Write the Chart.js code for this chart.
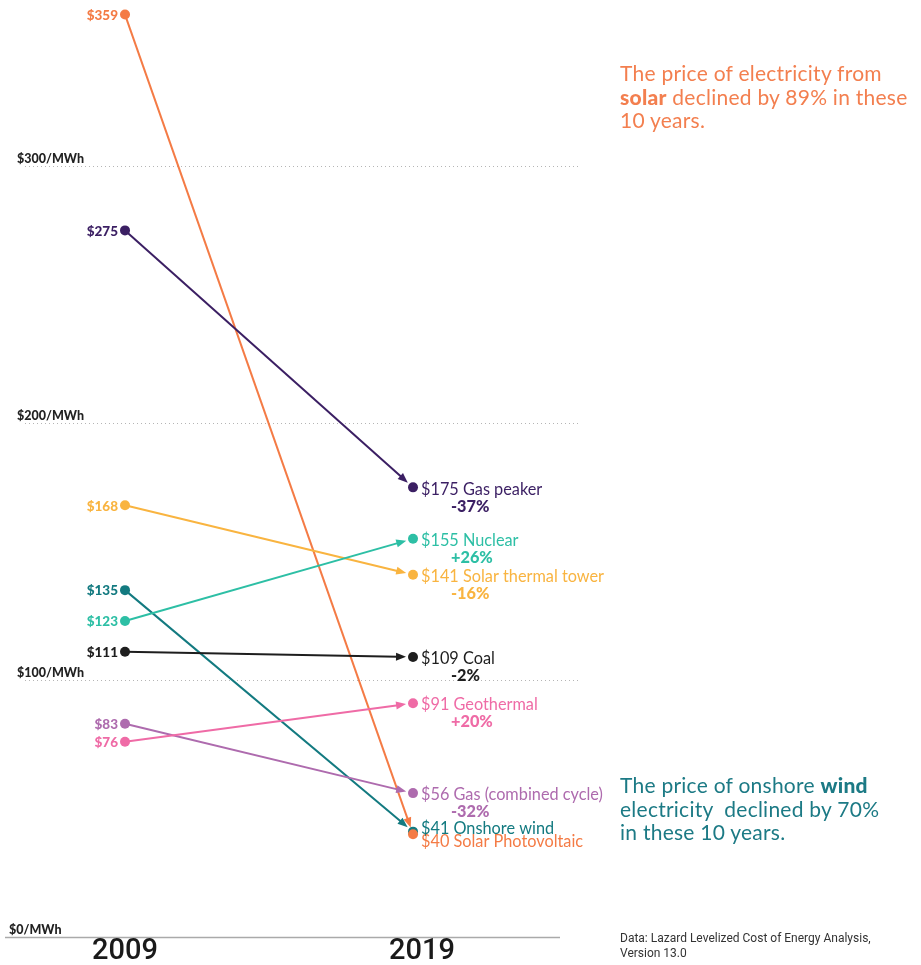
<!DOCTYPE html>
<html>
<head>
<meta charset="utf-8">
<script src="https://cdn.jsdelivr.net/npm/chart.js@4/dist/chart.umd.min.js"></script>
<style>
  body { margin: 0; background: #fff; }
  #wrap { position: relative; width: 921px; height: 965px; }
  .note { position: absolute; left: 620px; font-family: Lato, sans-serif; font-size: 21px; line-height: 23.5px; letter-spacing: 0.25px; white-space: nowrap; }
  .note b { font-weight: 900; }
  #solarNote { top: 61px; color: #f37f4f; }
  #windNote { top: 773px; color: #1c7a85; }
  #source { position: absolute; left: 620px; top: 931px; font-family: Roboto, sans-serif; font-size: 12px; line-height: 15px; color: #333; white-space: nowrap; }
</style>
</head>
<body>
<div id="wrap">
  <canvas id="chart" width="921" height="965"></canvas>
  <div id="solarNote" class="note">The price of electricity from<br><b>solar</b> declined by 89% in these<br>10 years.</div>
  <div id="windNote" class="note">The price of onshore <b>wind</b><br>electricity&nbsp; declined by 70%<br>in these 10 years.</div>
  <div id="source">Data: Lazard Levelized Cost of Energy Analysis,<br>Version 13.0</div>
</div>
<script>
const years = [2009, 2019];
const technologies = ["Solar Photovoltaic", "Gas peaker", "Solar thermal tower", "Onshore wind", "Nuclear", "Coal", "Gas (combined cycle)", "Geothermal"];
const price2009 = [359, 275, 168, 135, 123, 111, 83, 76];
const price2019 = [40, 175, 141, 41, 155, 109, 56, 91];
const changeLabels = ["", "-37%", "-16%", "", "+26%", "-2%", "-32%", "+20%"];
const yTicks = [0, 100, 200, 300];

const colors = ["#f47b45", "#3b1f63", "#f9b440", "#137a80", "#2dbfa5", "#1e1e1e", "#ae6bae", "#ef6ba6"];
// small vertical nudges so the two lowest labels do not collide
const labelNudge = [6, 0, 0, -5, 0, 0, 0, 0];
const yearShift = [0, 9];

const datasets = technologies.map((name, i) => ({
  label: name,
  data: [{ x: years[0], y: price2009[i] }, { x: years[1], y: price2019[i] }],
  showLine: false,
  clip: false,
  pointRadius: 5,
  pointHoverRadius: 5,
  pointBorderWidth: 0,
  pointBackgroundColor: colors[i],
  borderColor: colors[i],
}));

const slopePlugin = {
  id: "slope",
  beforeDatasetsDraw(chart) {
    const ctx = chart.ctx;
    const x = chart.scales.x, y = chart.scales.y;
    ctx.save();
    // grid lines and tick labels
    yTicks.forEach(v => {
      const py = Math.round(y.getPixelForValue(v)) + 0.5;
      if (v === 0) {
        ctx.strokeStyle = "#aaa";
        ctx.lineWidth = 1.5;
        ctx.setLineDash([]);
        ctx.beginPath(); ctx.moveTo(5, py); ctx.lineTo(560, py); ctx.stroke();
      } else {
        ctx.strokeStyle = "#b5b5b5";
        ctx.lineWidth = 1;
        ctx.setLineDash([1, 3]);
        ctx.beginPath(); ctx.moveTo(25, py); ctx.lineTo(578, py); ctx.stroke();
      }
      ctx.setLineDash([]);
      ctx.fillStyle = "#222";
      ctx.font = "900 12.5px Lato, sans-serif";
      ctx.textAlign = "left";
      ctx.textBaseline = "alphabetic";
      ctx.fillText("$" + v + "/MWh", v === 0 ? 9 : 17, py - 4);
    });
    // year labels
    ctx.fillStyle = "#1a1a1a";
    ctx.font = "500 29px Roboto, sans-serif";
    ctx.textAlign = "center";
    ctx.textBaseline = "middle";
    years.forEach((yr, k) => ctx.fillText(String(yr), x.getPixelForValue(yr) + yearShift[k], 952));

    // slope lines with arrowheads
    chart.data.datasets.forEach((ds, i) => {
      const pts = chart.getDatasetMeta(i).data;
      const x0 = pts[0].x, y0 = pts[0].y, x1 = pts[1].x, y1 = pts[1].y;
      const ang = Math.atan2(y1 - y0, x1 - x0);
      const tipX = x1 - 7 * Math.cos(ang), tipY = y1 - 7 * Math.sin(ang);
      const baseX = tipX - 10 * Math.cos(ang), baseY = tipY - 10 * Math.sin(ang);
      ctx.strokeStyle = colors[i];
      ctx.fillStyle = colors[i];
      ctx.lineWidth = 2;
      ctx.beginPath(); ctx.moveTo(x0, y0); ctx.lineTo(baseX + 2 * Math.cos(ang), baseY + 2 * Math.sin(ang)); ctx.stroke();
      ctx.beginPath();
      ctx.moveTo(tipX, tipY);
      ctx.lineTo(baseX - 4 * Math.sin(ang), baseY + 4 * Math.cos(ang));
      ctx.lineTo(baseX + 4 * Math.sin(ang), baseY - 4 * Math.cos(ang));
      ctx.closePath();
      ctx.fill();
    });
    ctx.restore();
  },
  afterDatasetsDraw(chart) {
    const ctx = chart.ctx;
    ctx.save();
    chart.data.datasets.forEach((ds, i) => {
      const pts = chart.getDatasetMeta(i).data;
      ctx.fillStyle = colors[i];
      // 2009 value
      ctx.font = "900 13.5px Lato, sans-serif";
      ctx.textAlign = "right";
      ctx.textBaseline = "middle";
      ctx.fillText("$" + price2009[i], pts[0].x - 7, pts[0].y + 1);
      // 2019 value and name
      const ly = pts[1].y + 2 + labelNudge[i];
      ctx.font = "16.3px Lato, sans-serif";
      ctx.textAlign = "left";
      ctx.fillText("$" + price2019[i] + " " + technologies[i], pts[1].x + 8, ly);
      if (changeLabels[i]) {
        ctx.font = "900 16.3px Lato, sans-serif";
        ctx.fillText(changeLabels[i], pts[1].x + 38, ly + 17);
      }
    });
    ctx.restore();
  }
};

new Chart(document.getElementById("chart"), {
  type: "scatter",
  data: { datasets },
  options: {
    responsive: false,
    animation: false,
    layout: { padding: { left: 5, right: 361, top: 12, bottom: 28 } },
    scales: {
      x: { type: "linear", display: false, min: 2004.833, max: 2024.104 },
      y: { type: "linear", display: false, min: 0, max: 360 }
    },
    plugins: {
      legend: { display: false },
      tooltip: { enabled: false }
    }
  },
  plugins: [slopePlugin]
});
</script>
</body>
</html>
